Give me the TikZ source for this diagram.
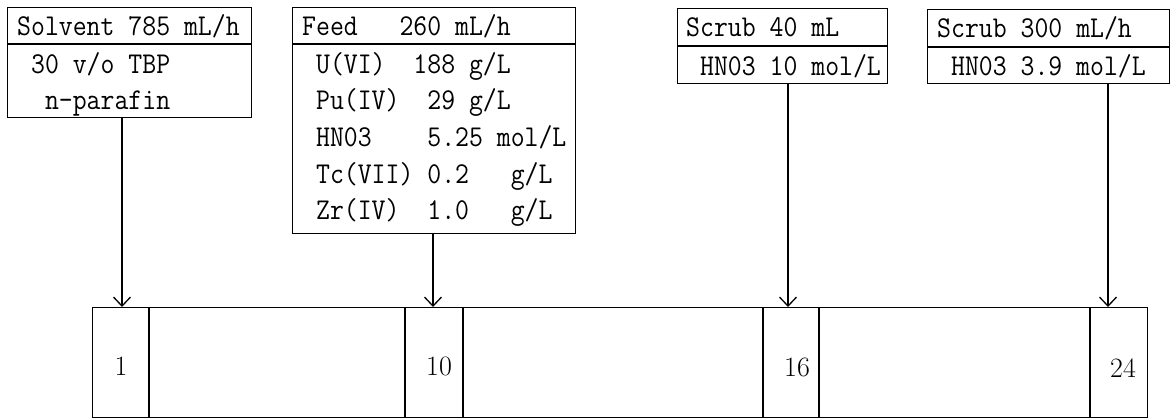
\documentclass[tikz,border=0pt]{standalone}
\usetikzlibrary{arrows.meta}
\newcommand{\tline}[1]{\scalebox{1}[1.12]{#1}}
\begin{document}
\begin{tikzpicture}[x=1pt,y=-1pt,
  box/.style={draw,line width=1.3pt,inner sep=0pt,anchor=north west},
  tx/.style={inner sep=0pt,anchor=base west,font=\fontsize{27}{30}\ttfamily},
  num/.style={inner sep=0pt,font=\fontsize{28}{32}\selectfont},
  ln/.style={line width=1.3pt},
  feedarrow/.style={line width=1.3pt,-{Straight Barb[length=9pt,width=17pt,line width=1.3pt]}}]
\useasboundingbox (0,0) rectangle (1175,420);
% solvent box
\node[box,minimum width=244pt,minimum height=110pt] (solv) at (7,7) {};
\draw[ln] (solv.west |- 0,44) -- (solv.east |- 0,44);
\node[tx] (solv1) at (17,36) {\tline{Solvent 785 mL/h}};
\node[tx] (solv2) at (17,74) {\tline{~30 v/o TBP}};
\node[tx] (solv3) at (17,110) {\tline{~~n-parafin}};
% feed box
\node[box,minimum width=283pt,minimum height=226pt] (feed) at (292,7) {};
\draw[ln] (feed.west |- 0,44) -- (feed.east |- 0,44);
\node[tx] (feed1) at (302,36) {\tline{Feed~~~260 mL/h}};
\node[tx] (feed2) at (302,74) {\tline{~U(VI)~~188 g/L}};
\node[tx] (feed3) at (302,110) {\tline{~Pu(IV)~~29 g/L}};
\node[tx] (feed4) at (302,146) {\tline{~HN03~~~~5.25 mol/L}};
\node[tx] (feed5) at (302,183) {\tline{~Tc(VII) 0.2~~~g/L}};
\node[tx] (feed6) at (302,219) {\tline{~Zr(IV)~~1.0~~~g/L}};
% scrub 40
\node[box,minimum width=210pt,minimum height=75pt] (scra) at (677,8) {};
\draw[ln] (scra.west |- 0,46) -- (scra.east |- 0,46);
\node[tx] (scra1) at (686,37) {\tline{Scrub 40 mL}};
\node[tx] (scra2) at (686,75) {\tline{~HN03 10 mol/L}};
% scrub 300
\node[box,minimum width=242pt,minimum height=74pt] (scrb) at (927,9) {};
\draw[ln] (scrb.west |- 0,47) -- (scrb.east |- 0,47);
\node[tx] (scrb1) at (937,38) {\tline{Scrub 300 mL/h}};
\node[tx] (scrb2) at (937,75) {\tline{~HN03 3.9 mol/L}};
% column
\node[box,minimum width=1055pt,minimum height=110pt] (col) at (92,307) {};
\foreach \xx in {149,405,463,763,819,1090}
  \draw[ln] (\xx,307) -- (\xx,417);
\node[num] (st1) at (121,366) {1};
\node[num] (st10) at (439,366) {10};
\node[num] (st16) at (797,367) {16};
\node[num] (st24) at (1123,368) {24};
% arrows
\coordinate (t1) at (122,307);
\coordinate (t10) at (433,307);
\coordinate (t16) at (788,307);
\coordinate (t24) at (1108,307);
\draw[feedarrow] (solv.south -| t1) -- (t1);
\draw[feedarrow] (feed.south -| t10) -- (t10);
\draw[feedarrow] (scra.south -| t16) -- (t16);
\draw[feedarrow] (scrb.south -| t24) -- (t24);
\end{tikzpicture}
\end{document}
